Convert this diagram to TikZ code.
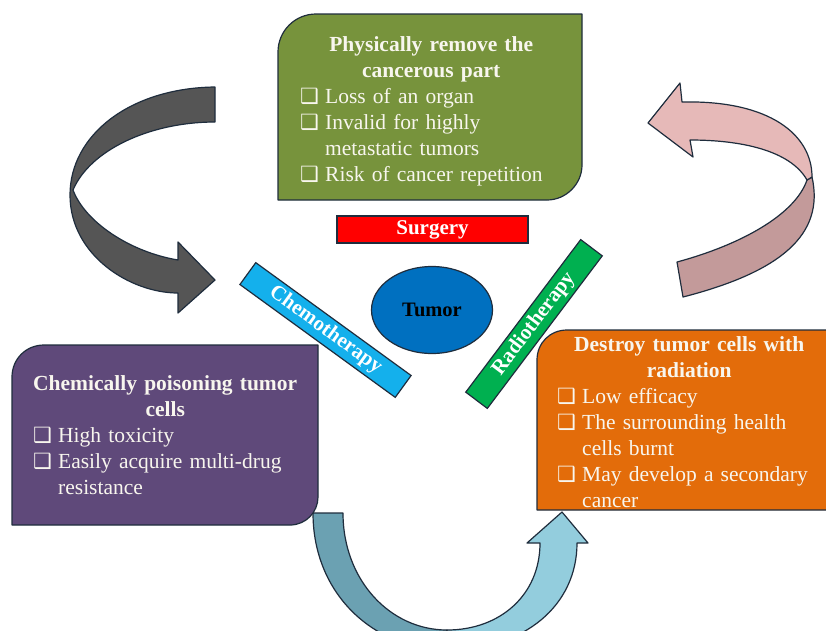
\documentclass[tikz,border=0pt]{standalone}
\usepackage{fontspec}
\setmainfont{Liberation Serif}
\newfontfamily\dvs{DejaVu Sans}
\usetikzlibrary{shapes.geometric}
\definecolor{edge}{HTML}{1F2D3D}
\definecolor{olive}{HTML}{77933C}
\definecolor{purp}{HTML}{5F497A}
\definecolor{orng}{HTML}{E36C0A}
\definecolor{tblue}{HTML}{0070C0}
\definecolor{chemo}{HTML}{14B0EC}
\definecolor{radio}{HTML}{00B050}
\definecolor{grayar}{HTML}{555555}
\definecolor{pinkA}{HTML}{E6B9B8}
\definecolor{pinkB}{HTML}{C39A9A}
\definecolor{tealA}{HTML}{6BA1B2}
\definecolor{tealB}{HTML}{93CDDD}
\definecolor{txtw}{HTML}{F8F6EE}
\newcommand{\bx}{{\dvs\fontsize{21}{21}\selectfont ❑}}
\newcommand{\itm}[1]{\hangindent=25pt\hangafter=1\noindent\makebox[25pt][l]{\bx}#1\par}
\tikzset{
  blob/.style={draw=edge, line width=1.2pt, line join=round},
  boxtxt/.style={inner sep=0pt, anchor=north west, text=txtw,
    font=\fontsize{21.5}{26}\selectfont, align=left},
  bar/.style={draw=edge, line width=1.2pt, inner sep=0pt, text=white,
    font=\fontsize{21}{24}\selectfont\bfseries},
}
\begin{document}
\begin{tikzpicture}[x=1pt,y=-1pt]
\useasboundingbox (0,0) rectangle (826,630);
\fill[white] (0,0) rectangle (826,630);

% gray curved arrow (left top)
\draw[blob, fill=grayar] (215,87) .. controls (130,88) and (70,135) .. (70,195)
  .. controls (70,255) and (130,293) .. (178,293)
  -- (178,313) -- (215,280) -- (178,242) -- (178,260)
  .. controls (130,252) and (85,222) .. (73,190)
  .. controls (90,150) and (150,122) .. (215,122) -- cycle;

% pink curved arrow (right top)
\draw[blob, fill=pinkB] (812,177) .. controls (825,235) and (780,272) .. (683,297)
  -- (677,262) .. controls (740,245) and (795,215) .. (807,180) -- cycle;
\draw[blob, fill=pinkA] (682,102) .. controls (770,100) and (812,135) .. (812,177)
  -- (807,180) .. controls (790,150) and (740,140) .. (690,140)
  -- (693,157) -- (648,123) -- (680,83) -- cycle;

% teal curved arrow (bottom)
\draw[blob, fill=tealA] (313,513) .. controls (313,595) and (375,650) .. (447,650)
  -- (447,630) .. controls (390,630) and (343,580) .. (343,513) -- cycle;
\draw[blob, fill=tealB] (447,650) .. controls (525,650) and (577,605) .. (577,543)
  -- (588,543) -- (562,512) -- (527,543) -- (540,543)
  .. controls (540,595) and (500,630) .. (447,630) -- cycle;

% green box
\draw[blob, fill=olive] (278,52) .. controls (278,31) and (295,14) .. (316,14)
  -- (582,14) -- (582,165) .. controls (582,184) and (566,200) .. (547,200)
  -- (278,200) -- cycle;
\node[boxtxt, text width=262pt] (gtxt) at (300,33)
  {\centering\bfseries\strut Physically remove the\\cancerous part\par
   \raggedright\mdseries
   \itm{Loss of an organ}
   \itm{Invalid for highly\newline metastatic tumors}
   \itm{Risk of cancer repetition}};

% purple box
\draw[blob, fill=purp] (12,377) .. controls (12,359) and (26,345) .. (44,345)
  -- (318,345) -- (318,497) .. controls (318,512) and (306,525) .. (290,525)
  -- (12,525) -- cycle;
\node[boxtxt, text width=264pt] (ptxt) at (33,372)
  {\centering\bfseries\strut Chemically poisoning tumor\\cells\par
   \raggedright\mdseries
   \itm{High toxicity}
   \itm{Easily acquire multi-drug\newline resistance}};

% orange box
\draw[blob, fill=orng] (537,360) .. controls (537,343) and (550,330) .. (567,330)
  -- (840,330) -- (840,510) -- (537,510) -- cycle;
\node[boxtxt, text width=264pt] (otxt) at (557,333)
  {\centering\bfseries\strut Destroy tumor cells with\\radiation\par
   \raggedright\mdseries
   \itm{Low efficacy}
   \itm{The surrounding health\newline cells burnt}
   \itm{May develop a secondary\newline cancer}};

% centre
\node[bar, fill=red, minimum width=191pt, minimum height=27pt] (surg) at (432.5,229.5) {Surgery};
\node[ellipse, draw=edge, line width=1.2pt, fill=tblue, minimum width=121pt, minimum height=87pt,
  inner sep=0pt, font=\fontsize{20.5}{24}\selectfont\bfseries] (tumor) at (432,310) {Tumor};
\node[bar, fill=chemo, rotate=-36, minimum width=192pt, minimum height=27pt] (chem) at (325.5,330) {Chemotherapy};
\node[bar, fill=radio, rotate=53, minimum width=191pt, minimum height=27pt] (rad) at (534,324) {Radiotherapy};
\end{tikzpicture}
\end{document}
